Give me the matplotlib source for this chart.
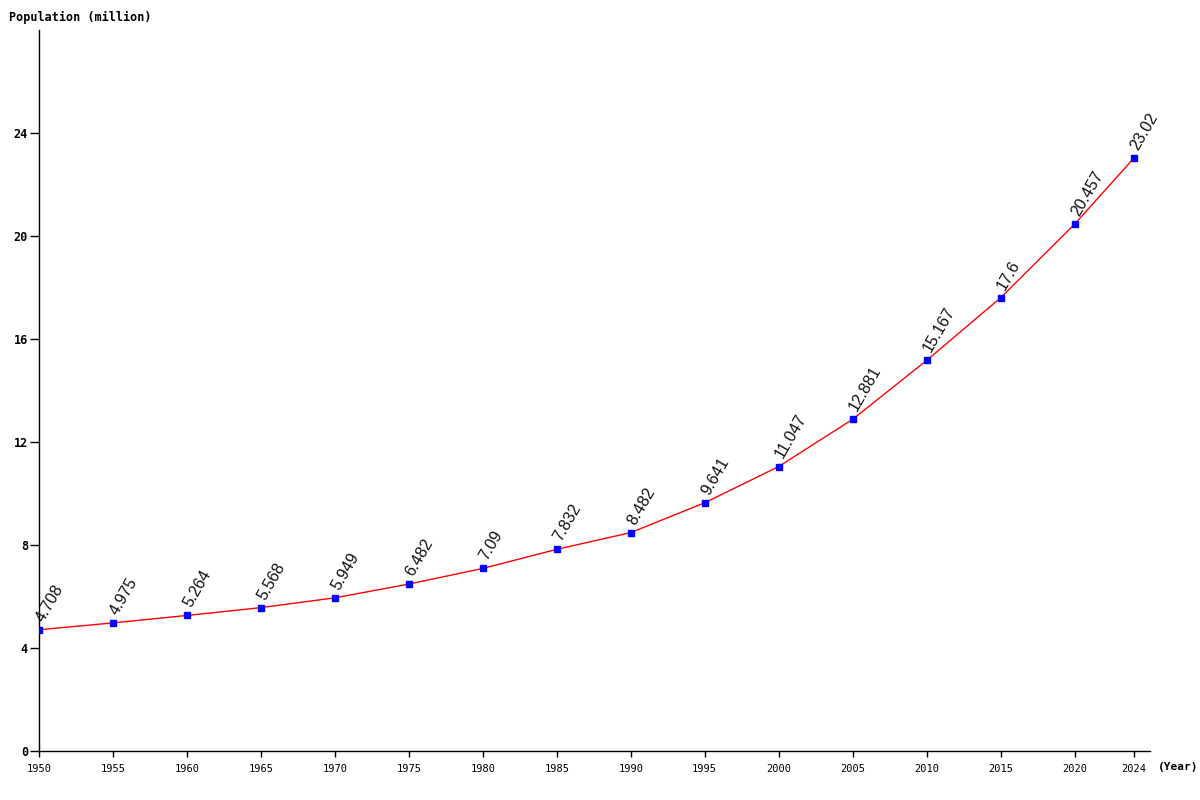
import matplotlib
matplotlib.use("Agg")
import matplotlib.pyplot as plt

years = [1950, 1955, 1960, 1965, 1970, 1975, 1980, 1985, 1990, 1995, 2000, 2005, 2010, 2015, 2020, 2024]
population = [4.708, 4.975, 5.264, 5.568, 5.949, 6.482, 7.09, 7.832, 8.482, 9.641, 11.047, 12.881, 15.167, 17.6, 20.457, 23.02]
labels = ["4.708", "4.975", "5.264", "5.568", "5.949", "6.482", "7.09", "7.832", "8.482", "9.641", "11.047", "12.881", "15.167", "17.6", "20.457", "23.02"]
yticks = [0, 4, 8, 12, 16, 20, 24]

fig = plt.figure(figsize=(12, 8), dpi=100)
ax = fig.add_axes([39/1200, 49/800, (1150-39)/1200, (751-30)/800])

ax.plot(years, population, color="red", linewidth=1, zorder=2)
ax.plot(years, population, linestyle="none", marker="s", markersize=4.5, color="blue", zorder=3)

for x, y, t in zip(years, population, labels):
    ax.annotate(t, (x, y), xytext=(5, 4), textcoords="offset points", rotation=60,
                rotation_mode="anchor", ha="left", va="bottom",
                fontsize=11.5, family="Liberation Sans", color="#111111")

ax.set_xlim(1950, 2025.1)
ax.set_ylim(0, 28)
ax.set_xticks(years)
ax.set_xticklabels([str(y) for y in years], family="DejaVu Sans Mono", fontsize=7.5)
ax.set_yticks(yticks)
ax.set_yticklabels([str(v) for v in yticks], family="DejaVu Sans Mono", fontsize=8.5, fontweight="bold")
ax.tick_params(axis="y", direction="out", length=6.5, width=1, pad=1.5)
ax.tick_params(axis="x", direction="out", length=4, width=1, pad=5)

for s in ["top", "right"]:
    ax.spines[s].set_visible(False)
ax.spines["left"].set_linewidth(1)
ax.spines["bottom"].set_linewidth(1)

fig.text(9/1200, 1 - 17/800, "Population (million)", family="DejaVu Sans Mono", fontsize=8.5,
         fontweight="bold", va="center", ha="left")
fig.text(1158/1200, 1 - 767/800, "(Year)", family="DejaVu Sans Mono", fontsize=8,
         fontweight="bold", va="center", ha="left")

fig.savefig("out.png", dpi=100)
